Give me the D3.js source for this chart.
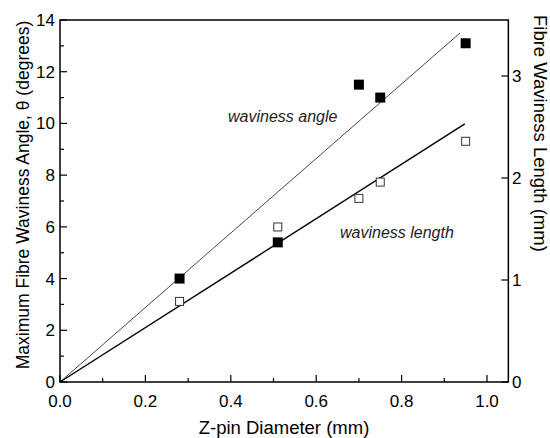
<!DOCTYPE html>
<html><head><meta charset="utf-8">
<script src="https://cdn.jsdelivr.net/npm/d3@7"></script>
<style>body{margin:0;background:#fff}text{font-family:"Liberation Sans",Arial,sans-serif}</style>
</head><body><svg id="c" width="550" height="438"></svg>
<script>
const diameters = [0.28, 0.51, 0.70, 0.75, 0.95];
const waviness_angle = [4.0, 5.4, 11.5, 11.0, 13.1];
const waviness_length_mm = [0.79, 1.52, 1.80, 1.96, 2.36];
const angle_fit = [[0, 0], [0.937, 13.5]];
const length_fit_mm = [[0, 0], [0.948, 2.53]];
const x_ticks = [0, 0.2, 0.4, 0.6, 0.8, 1.0];
const x_minor = [0.1, 0.3, 0.5, 0.7, 0.9];
const yl_ticks = [0, 2, 4, 6, 8, 10, 12, 14];
const yl_minor = [1, 3, 5, 7, 9, 11, 13];
const yr_ticks = [0, 1, 2, 3];

const svg = d3.select("#c");
const L = 60, T = 20, B = 382;
const x = d3.scaleLinear().domain([0, 1.05]).range([L, L + 427 * 1.05]);
const y = d3.scaleLinear().domain([0, 14]).range([B, T]);
const y2 = d3.scaleLinear().domain([0, 3.55]).range([B, B - 102 * 3.55]);

svg.append("rect").attr("x", L).attr("y", T).attr("width", x(1.05) - L).attr("height", B - T)
  .attr("fill", "none").attr("stroke", "#000").attr("stroke-width", 1.5);

const g = svg.append("g").attr("stroke", "#000").attr("stroke-width", 1.2);
x_ticks.forEach(v => g.append("line").attr("x1", x(v)).attr("x2", x(v)).attr("y1", B).attr("y2", B - 7));
x_minor.forEach(v => g.append("line").attr("x1", x(v)).attr("x2", x(v)).attr("y1", B).attr("y2", B - 4));
yl_ticks.forEach(v => g.append("line").attr("x1", L).attr("x2", L + 7).attr("y1", y(v)).attr("y2", y(v)));
yl_minor.forEach(v => g.append("line").attr("x1", L).attr("x2", L + 4).attr("y1", y(v)).attr("y2", y(v)));
yr_ticks.forEach(v => g.append("line").attr("x1", x(1.05)).attr("x2", x(1.05) - 7).attr("y1", y2(v)).attr("y2", y2(v)));

const t = svg.append("g").attr("font-size", 17).attr("fill", "#000");
x_ticks.forEach(v => t.append("text").attr("x", x(v)).attr("y", 407).attr("text-anchor", "middle").text(v.toFixed(1)));
yl_ticks.forEach(v => t.append("text").attr("x", 55).attr("y", y(v) + 6).attr("text-anchor", "end").text(v));
yr_ticks.forEach(v => t.append("text").attr("x", 512).attr("y", y2(v) + 6).text(v));

t.append("text").attr("x", 284).attr("y", 434).attr("text-anchor", "middle").attr("font-size", 18.5).text("Z-pin Diameter (mm)");
t.append("text").attr("transform", "translate(29,195) rotate(-90)").attr("text-anchor", "middle").attr("font-size", 17.5)
  .text("Maximum Fibre Waviness Angle, θ (degrees)");
t.append("text").attr("transform", "translate(534,15) rotate(90)").attr("text-anchor", "start").attr("font-size", 18.5)
  .text("Fibre Waviness Length (mm)");

const line1 = d3.line().x(d => x(d[0])).y(d => y(d[1]));
const line2 = d3.line().x(d => x(d[0])).y(d => y2(d[1]));
svg.append("path").attr("d", line1(angle_fit)).attr("stroke", "#333").attr("stroke-width", 0.9).attr("fill", "none");
svg.append("path").attr("d", line2(length_fit_mm)).attr("stroke", "#000").attr("stroke-width", 1.4).attr("fill", "none");

const s1 = 10, s2 = 8;
diameters.forEach((d, i) => {
  svg.append("rect").attr("x", x(d) - s1 / 2).attr("y", y(waviness_angle[i]) - s1 / 2)
    .attr("width", s1).attr("height", s1).attr("fill", "#000");
  svg.append("rect").attr("x", x(d) - s2 / 2).attr("y", y2(waviness_length_mm[i]) - s2 / 2)
    .attr("width", s2).attr("height", s2).attr("fill", "#fff").attr("stroke", "#333").attr("stroke-width", 1);
});

t.append("text").attr("x", 228).attr("y", 122).attr("font-size", 16).attr("font-style", "italic").attr("fill", "#222").text("waviness angle");
t.append("text").attr("x", 340).attr("y", 238).attr("font-size", 16).attr("font-style", "italic").attr("fill", "#222").text("waviness length");
</script></body></html>
